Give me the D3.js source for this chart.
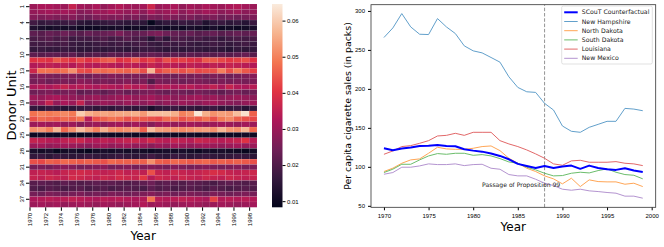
<!DOCTYPE html>
<html>
<head>
<meta charset="utf-8">
<script src="https://cdn.jsdelivr.net/npm/d3@7"></script>
<style>
  body { margin: 0; background: #fff; }
  svg { display: block; font-family: "DejaVu Sans", sans-serif; }
</style>
</head>
<body>
<svg width="664" height="247"></svg>
<script>
// ---- data ----
var heatYears = [1970,1971,1972,1973,1974,1975,1976,1977,1978,1979,1980,1981,1982,1983,1984,
                 1985,1986,1987,1988,1989,1990,1991,1992,1993,1994,1995,1996,1997,1998];
var donorUnits = [1,2,3,4,5,6,7,8,9,10,11,12,13,14,15,16,17,18,19,20,21,22,23,24,25,26,27,28,29,30,31,32,33,34,35,36,37,38];
// weights, in thousandths, one row per donor unit
var heatRows = [
  [30,32,32,31,30,36,31,30,32,29,31,33,31,30,31,37,30,31,32,29,31,30,32,31,30,32,33,31,30],
  [29,30,31,30,31,30,27,28,30,30,32,30,29,30,28,32,29,30,31,28,30,29,31,30,28,29,30,28,29],
  [27,26,27,26,26,27,25,24,26,27,26,27,25,26,24,26,25,27,26,25,26,24,25,26,24,25,24,25,26],
  [18,16,17,16,17,18,15,14,15,16,17,16,15,16,15,9,14,16,15,17,16,17,13,16,17,15,16,14,17],
  [13,12,11,12,11,12,10,10,10,11,11,12,10,11,10,12,11,10,11,10,12,11,10,12,10,11,10,11,12],
  [22,21,23,22,24,22,21,23,22,23,24,26,23,22,23,25,26,24,23,22,23,21,22,23,21,22,23,22,23],
  [19,20,21,19,20,17,18,18,19,20,18,19,21,19,18,14,19,15,20,19,18,19,17,18,16,18,19,18,19],
  [18,18,19,18,19,17,16,16,17,18,17,18,17,18,19,17,16,18,17,18,17,16,17,18,17,16,17,18,17],
  [16,17,16,16,17,16,15,15,16,15,16,16,15,16,17,17,16,15,16,15,16,16,15,16,15,14,16,15,16],
  [22,21,22,22,21,22,19,20,21,20,22,21,22,21,22,23,22,21,22,21,22,21,22,21,22,21,22,23,21],
  [40,41,40,45,42,40,43,40,42,45,46,40,41,45,40,42,38,44,41,42,40,39,45,45,43,41,42,44,40],
  [33,34,35,34,35,33,36,34,33,35,34,33,35,34,33,36,34,35,34,33,35,34,33,35,34,36,35,34,33],
  [37,48,48,47,48,52,44,43,48,47,48,47,46,48,44,57,43,46,46,44,46,43,44,44,50,44,49,45,42],
  [26,27,26,25,26,27,25,24,26,25,27,26,25,26,25,27,26,25,24,26,25,26,24,26,25,24,25,26,27],
  [25,26,24,25,26,25,28,27,25,26,25,26,27,25,26,20,26,25,26,24,25,26,25,24,26,25,26,25,26],
  [32,33,32,34,36,33,34,33,32,34,33,32,35,33,34,30,33,34,32,33,34,32,33,35,32,36,33,32,34],
  [24,25,26,24,25,26,22,23,24,22,24,25,23,24,25,26,24,23,25,24,23,25,24,23,22,24,25,23,24],
  [30,29,31,32,30,29,28,29,30,28,29,30,31,29,30,31,29,30,28,29,30,31,29,30,28,29,30,29,28],
  [28,30,36,29,32,30,36,27,28,30,29,28,30,29,28,30,27,29,28,30,29,28,30,31,29,28,27,29,30],
  [16,15,17,16,14,15,16,17,15,16,15,17,16,15,16,12,15,16,17,15,16,15,16,17,15,16,17,14,16],
  [48,50,49,50,51,49,60,56,54,55,54,55,55,56,53,58,58,58,56,50,52,64,56,52,54,53,58,63,46],
  [44,47,46,45,47,46,48,34,44,46,48,47,44,46,45,44,43,47,48,44,46,45,48,44,49,51,46,44,43],
  [30,31,30,31,29,30,27,29,30,28,30,31,29,31,30,27,30,31,29,30,31,30,29,30,31,30,29,31,30],
  [52,53,50,57,47,52,58,54,50,56,52,51,52,53,46,58,54,53,52,51,52,53,54,52,57,53,52,57,47],
  [10,11,10,10,11,10,9,10,10,11,10,10,11,10,10,9,10,11,10,10,11,10,11,10,9,10,10,11,10],
  [36,35,34,33,35,36,37,34,33,35,34,35,36,37,35,38,35,34,36,35,34,37,36,35,34,35,36,40,34],
  [30,31,29,30,31,30,29,28,30,31,29,30,31,29,30,28,30,29,31,30,29,30,31,30,29,30,31,29,30],
  [12,11,12,9,11,12,10,9,11,12,11,12,11,12,11,10,11,12,11,12,11,10,12,11,12,11,10,9,11],
  [16,17,15,17,16,15,16,17,16,15,16,17,16,15,16,18,16,15,17,16,15,16,17,16,15,16,17,16,15],
  [44,43,46,45,47,46,45,46,45,44,47,46,46,46,46,52,46,45,47,46,45,46,47,45,46,45,46,45,44],
  [25,26,25,27,28,27,25,26,27,28,25,26,27,25,26,27,26,25,27,26,25,26,27,26,25,26,27,25,26],
  [35,36,35,34,36,37,38,37,36,35,36,37,35,36,35,44,36,35,37,36,35,36,37,39,38,36,35,36,37],
  [36,35,37,36,35,38,37,36,35,37,36,38,37,36,41,34,37,36,35,37,36,35,37,36,35,37,36,35,36],
  [21,22,21,20,22,21,20,21,22,21,22,21,20,21,22,24,21,22,21,20,22,21,20,19,21,22,21,20,21],
  [20,19,21,20,19,20,21,19,20,21,19,20,21,20,19,22,20,21,19,20,21,20,19,21,20,19,20,21,20],
  [25,24,26,25,24,25,26,24,25,24,26,25,24,25,26,27,25,26,24,25,26,25,24,26,25,24,25,26,25],
  [32,33,34,33,34,35,34,33,32,34,33,34,33,32,33,48,34,33,34,35,34,33,32,42,33,34,33,34,33],
  [30,31,30,31,29,30,31,30,29,31,30,29,30,31,33,30,31,30,29,30,31,30,29,30,31,30,29,30,31]
];
var colorTicks = [0.01, 0.02, 0.03, 0.04, 0.05, 0.06];

var lineYears = [1970,1971,1972,1973,1974,1975,1976,1977,1978,1979,1980,1981,1982,1983,1984,
                 1985,1986,1987,1988,1989,1990,1991,1992,1993,1994,1995,1996,1997,1998,1999];
var scout = [123.8,121.3,123.4,124.7,126.8,127.2,128.0,126.8,126.4,122.5,120.8,119.5,117.0,114.0,109.7,
             103.8,101.2,98.6,101.2,98.6,100.3,101.6,97.4,101.6,98.6,96.9,96.1,98.2,95.2,93.5];
var newHampshire = [265.9,278.2,296.6,279.5,270.1,269.7,290.2,279.5,271.0,255.2,248.8,246.2,240.3,234.3,215.5,
                    201.9,196.3,195.5,181.4,172.9,152.4,145.6,144.3,150.7,154.5,158.4,158.4,175.0,174.1,172.0];
var northDakota = [94.0,98.3,104.6,108.9,110.2,117.4,125.1,123.0,122.5,122.5,123.8,126.0,126.8,120.8,111.0,
                   104.6,98.2,94.0,88.4,84.6,78.2,85.4,74.7,83.3,81.1,80.7,80.7,77.7,79.0,74.7];
var southDakota = [92.7,97.0,103.3,103.3,108.9,114.0,117.0,116.1,117.4,117.4,114.8,115.7,114.0,110.6,106.3,
                   104.6,99.5,96.1,91.8,88.4,88.8,91.8,93.1,92.2,95.2,97.4,93.1,90.1,89.2,84.6];
var louisiana = [116.1,120.4,126.0,127.2,130.2,133.6,139.6,140.4,143.0,140.4,144.3,144.3,144.3,133.6,129.4,
                 126.0,121.7,116.6,111.0,103.8,102.0,107.6,108.4,105.9,105.9,105.9,106.7,104.6,103.8,101.6];
var newMexico = [90.5,92.7,99.5,99.5,101.2,103.8,102.9,102.9,103.8,101.6,102.9,103.3,98.2,96.9,90.1,
                 88.4,88.4,84.1,79.0,76.0,71.3,70.0,71.3,69.2,68.3,67.1,66.2,62.4,62.4,59.8];
var yTicks = [50, 100, 150, 200, 250, 300];
var xTicks = [1970, 1975, 1980, 1985, 1990, 1995, 2000];

var series = [
  {name: "SCouT Counterfactual", values: scout, color: "#0000ff", width: 2},
  {name: "New Hampshire", values: newHampshire, color: "#62a0cb", width: 1},
  {name: "North Dakota", values: northDakota, color: "#ffa656", width: 1},
  {name: "South Dakota", values: southDakota, color: "#6bbd6b", width: 1},
  {name: "Louisiana", values: louisiana, color: "#e26869", width: 1},
  {name: "New Mexico", values: newMexico, color: "#b494d0", width: 1}
];

var svg = d3.select("svg");

// ---- heatmap ----
var rocket = ["#03051a","#35193e","#701f57","#ad1759","#e13342","#f37651","#f6b48f","#faebdd"];
var vmin = 0.0083, vmax = 0.0646;
var color = d3.scaleLinear()
  .domain(rocket.map((c, i) => vmin + (vmax - vmin) * i / (rocket.length - 1)))
  .range(rocket)
  .interpolate(d3.interpolateRgb)
  .clamp(true);

var hx = d3.scaleLinear().domain([0, heatYears.length]).range([29.5, 257]);
var hy = d3.scaleBand().domain(donorUnits).range([4, 207.3]);

var cells = [];
heatRows.forEach(function(row, r) {
  row.forEach(function(v, c) {
    cells.push({unit: donorUnits[r], col: c, value: v / 1000});
  });
});

svg.append("g").selectAll("rect")
  .data(cells)
  .enter().append("rect")
    .attr("x", d => hx(d.col))
    .attr("y", d => hy(d.unit))
    .attr("width", hx(1) - hx(0))
    .attr("height", hy.bandwidth())
    .attr("fill", d => color(d.value))
    .attr("stroke", "rgba(255,255,255,0.12)")
    .attr("stroke-width", 0.4);

var hxAxis = svg.append("g")
  .attr("transform", "translate(0,207.3)")
  .call(d3.axisBottom(hx)
    .tickValues(heatYears.map((y, i) => i).filter(i => i % 2 === 0))
    .tickFormat(i => heatYears[i])
    .tickSize(3.5));
hxAxis.select(".domain").remove();
hxAxis.selectAll("text")
  .attr("font-size", 6)
  .attr("transform", "rotate(-90)")
  .attr("text-anchor", "end")
  .attr("x", -5.5)
  .attr("y", 0)
  .attr("dy", "0.35em");

var hyAxis = svg.append("g")
  .attr("transform", "translate(29.5,0)")
  .call(d3.axisLeft(hy)
    .tickValues(donorUnits.filter((u, i) => i % 3 === 0))
    .tickSize(3.5));
hyAxis.select(".domain").remove();
hyAxis.selectAll("text")
  .attr("font-size", 6)
  .attr("transform", "rotate(-90)")
  .attr("text-anchor", "middle")
  .attr("x", 0)
  .attr("y", -7.5)
  .attr("dy", "0");
hyAxis.selectAll(".tick text").each(function() {
  var t = d3.select(this.parentNode).attr("transform");
  // rotate around tick position
  d3.select(this).attr("transform", "translate(-7.5,0) rotate(-90)").attr("y", 0).attr("dy", "0.35em");
});

svg.append("text")
  .attr("transform", "translate(16,105.5) rotate(-90)")
  .attr("text-anchor", "middle")
  .attr("font-size", 13)
  .text("Donor Unit");
svg.append("text")
  .attr("x", 143.2).attr("y", 240)
  .attr("text-anchor", "middle")
  .attr("font-size", 12)
  .text("Year");

// ---- colorbar ----
var grad = svg.append("defs").append("linearGradient")
  .attr("id", "cbar").attr("x1", 0).attr("y1", 1).attr("x2", 0).attr("y2", 0);
grad.selectAll("stop")
  .data(rocket)
  .enter().append("stop")
    .attr("offset", (d, i) => i / (rocket.length - 1))
    .attr("stop-color", d => d);

var cy = d3.scaleLinear().domain([vmin, vmax]).range([207.3, 4]);
svg.append("rect")
  .attr("x", 272).attr("y", 4)
  .attr("width", 10.5).attr("height", 203.3)
  .attr("fill", "url(#cbar)");
var cAxis = svg.append("g")
  .attr("transform", "translate(282.5,0)")
  .call(d3.axisRight(cy).tickValues(colorTicks).tickFormat(d3.format(".2f")).tickSize(3));
cAxis.select(".domain").remove();
cAxis.selectAll("text").attr("font-size", 6).attr("x", 4.5);

// ---- line chart ----
var x = d3.scaleLinear().domain([1968.55, 2000.45]).range([371, 655.7]);
var y = d3.scaleLinear().domain([48.1, 308.0]).range([207.3, 4.7]);

svg.append("line")
  .attr("x1", x(1988)).attr("x2", x(1988))
  .attr("y1", y.range()[0]).attr("y2", y.range()[1])
  .attr("stroke", "#888").attr("stroke-width", 0.9)
  .attr("stroke-dasharray", "3.5,1.8");

var line = d3.line()
  .x((d, i) => x(lineYears[i]))
  .y(d => y(d));

svg.append("g").selectAll("path")
  .data(series.slice(1).concat([series[0]]))
  .enter().append("path")
    .attr("d", d => line(d.values))
    .attr("fill", "none")
    .attr("stroke", d => d.color)
    .attr("stroke-width", d => d.width)
    .attr("stroke-linejoin", "round");

svg.append("text")
  .attr("x", x(1981)).attr("y", y(75) + 0.5)
  .attr("font-size", 6.1)
  .attr("fill", "#222")
  .text("Passage of Proposition 99");

var xAxis = svg.append("g")
  .attr("transform", "translate(0,207.3)")
  .call(d3.axisBottom(x).tickValues(xTicks).tickFormat(d3.format("d")).tickSize(3));
xAxis.select(".domain").remove();
xAxis.selectAll("text").attr("font-size", 6).attr("dy", "0.75em");

var yAxis = svg.append("g")
  .attr("transform", "translate(371,0)")
  .call(d3.axisLeft(y).tickValues(yTicks).tickSize(3));
yAxis.select(".domain").remove();
yAxis.selectAll("text").attr("font-size", 6);

svg.append("rect")
  .attr("x", 371).attr("y", 4.7)
  .attr("width", 655.7 - 371).attr("height", 207.3 - 4.7)
  .attr("fill", "none").attr("stroke", "#333").attr("stroke-width", 0.8);

svg.append("text")
  .attr("x", 513.3).attr("y", 230.5)
  .attr("text-anchor", "middle")
  .attr("font-size", 12)
  .text("Year");
svg.append("text")
  .attr("transform", "translate(351,106) rotate(-90)")
  .attr("text-anchor", "middle")
  .attr("font-size", 9.4)
  .text("Per capita cigarette sales (in packs)");

// legend
var legend = svg.append("g").attr("transform", "translate(561.7,6)");
legend.append("rect")
  .attr("width", 90.6).attr("height", 58)
  .attr("rx", 1.5)
  .attr("fill", "#fff").attr("fill-opacity", 0.8)
  .attr("stroke", "#ccc").attr("stroke-width", 0.6);
var items = legend.selectAll(".item")
  .data(series)
  .enter().append("g")
    .attr("transform", (d, i) => "translate(0," + (6.3 + i * 9.2) + ")");
items.append("line")
  .attr("x1", 2.5).attr("x2", 16)
  .attr("stroke", d => d.color)
  .attr("stroke-width", d => d.width);
items.append("text")
  .attr("x", 20).attr("dy", "0.35em")
  .attr("font-size", 6.2)
  .attr("fill", "#222")
  .text(d => d.name);
</script>
</body>
</html>
